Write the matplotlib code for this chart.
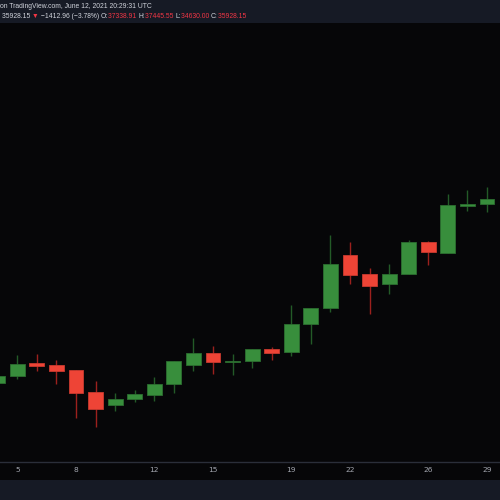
import matplotlib
matplotlib.use("Agg")
from matplotlib import pyplot as plt
from matplotlib.patches import Rectangle
import numpy as np

# ---- data (no price axis shown, so values are in chart height units) ----
days   = [4, 5, 6, 7, 8, 9, 10, 11, 12, 13, 14, 15, 16, 17, 18, 19, 20, 21, 22, 23, 24, 25, 26, 27, 28, 29]
opens  = [117.3, 124.3, 136.7, 135.0, 130.0, 107.7, 94.7, 100.7, 105.0, 116.0, 135.0, 147.0, 138.0,
          139.0, 151.0, 147.7, 175.7, 191.7, 245.0, 226.0, 216.3, 226.0, 258.0, 247.3, 294.3, 295.7]
highs  = [126.0, 145.0, 146.0, 140.0, 130.0, 119.3, 107.3, 110.0, 123.3, 139.0, 161.7, 154.0, 146.0,
          151.0, 153.3, 195.0, 192.3, 265.0, 258.0, 232.0, 236.3, 259.7, 259.0, 306.0, 310.0, 313.3]
lows   = [114.0, 121.0, 129.0, 116.0, 81.7, 72.7, 89.0, 97.7, 99.0, 106.7, 129.0, 126.0, 125.0,
          132.3, 140.0, 144.3, 156.0, 188.3, 216.0, 186.0, 206.0, 226.0, 235.0, 247.3, 289.0, 288.0]
closes = [124.3, 136.0, 134.3, 129.3, 107.3, 91.0, 101.3, 106.3, 116.3, 139.0, 147.0, 138.0, 139.3,
          151.0, 147.3, 176.3, 192.3, 236.3, 225.3, 213.7, 226.3, 258.0, 248.0, 294.7, 296.3, 301.0]

tick_days = [5, 8, 12, 15, 19, 22, 26, 29]

header1 = "on TradingView.com, June 12, 2021 20:29:31 UTC"
last_close = "35928.15"
change = " \u22121412.96 (\u22123.78%) "
ohlc_labels = ["O:", "H:", "L:", "C:"]
ohlc_values = ["37338.91", "37445.55", "34630.00", "35928.15"]

# colours
bg = "#060608"
panel = "#161a25"
up_fill, up_edge, up_wick = "#388e3c", "#2c6e30", "#235a27"
dn_fill, dn_edge, dn_wick = "#ee4436", "#c93a2f", "#9c201d"
txt = "#d1d4dc"
red_txt = "#f23645"
tick_col = "#a3a6af"
font = ["Liberation Sans", "DejaVu Sans"]

fig = plt.figure(figsize=(5, 5), dpi=100)
fig.patch.set_facecolor(panel)

ax = fig.add_axes([0, 20 / 500, 1, 457 / 500])
ax.set_facecolor(bg)
ax.set_xlim(4.116, 29.666)
ax.set_ylim(20, 477)
for s in ax.spines.values():
  s.set_visible(False)
ax.set_xticks([])
ax.set_yticks([])

body_w = 0.76
for d, o, h, l, c in zip(days, opens, highs, lows, closes):
  up = c >= o
  fill, edge, wick = (up_fill, up_edge, up_wick) if up else (dn_fill, dn_edge, dn_wick)
  ax.plot([d, d], [l, h], color=wick, linewidth=1.0, zorder=1, solid_capstyle="butt")
  lo = min(o, c)
  ht = max(abs(c - o), 0.8)
  ax.add_patch(Rectangle((d - body_w / 2, lo), body_w, ht, facecolor=fill,
                         edgecolor=edge, linewidth=0.6, zorder=2))

# bottom time axis line and labels
ax.axhline(38, color="#2a2e39", linewidth=1.0)
for d in tick_days:
  ax.text(d, 29.5, str(d), color=tick_col, fontsize=5.4, ha="center", va="center",
          family="DejaVu Sans")

# header
hax = fig.add_axes([0, 477 / 500, 1, 23 / 500])
hax.set_facecolor(panel)
hax.set_xlim(0, 500)
hax.set_ylim(23, 0)
hax.axis("off")

fs = 4.9
hax.text(0, 6, header1, color=txt, fontsize=fs, ha="left", va="center", family=font)

prev = hax.text(2, 16, last_close + " ", color=txt, fontsize=fs, ha="left", va="center",
                family=font)
pieces = [("\u25bc", red_txt), (change, txt)]
for lab, val in zip(ohlc_labels, ohlc_values):
  pieces.append((lab, txt))
  pieces.append((val + " ", red_txt))
for s, col in pieces:
  prev = hax.annotate(s, xy=(1, 0.5), xycoords=prev, va="center", ha="left",
                      color=col, fontsize=fs, family=font)

fig.savefig("out.png", dpi=100, facecolor=fig.get_facecolor())
